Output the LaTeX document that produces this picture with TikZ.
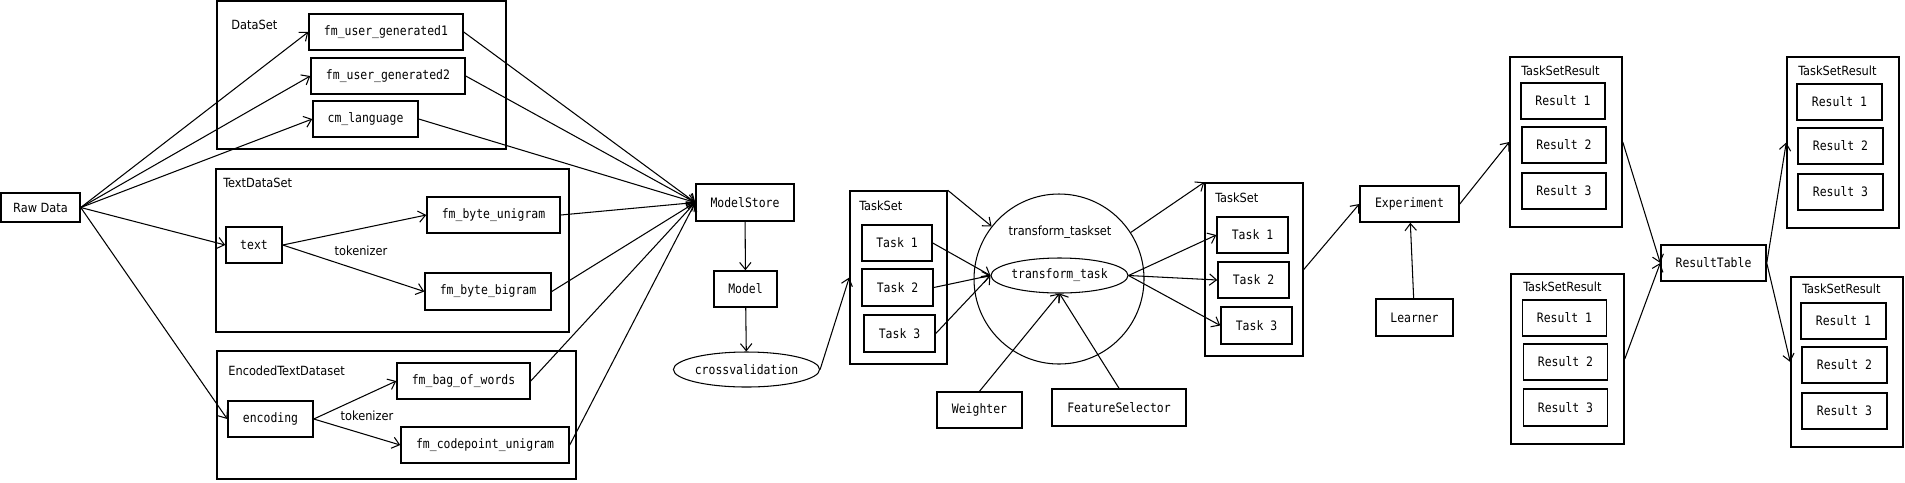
\documentclass[tikz,border=0pt]{standalone}
\usepackage{fontspec}
\usetikzlibrary{positioning, arrows.meta, shapes.geometric}
\newfontfamily\boxfont[FakeStretch=0.88]{DejaVu Sans Mono}
\newfontfamily\labfont{DejaVu Sans Condensed}
\newcommand{\monotxt}{\boxfont\fontsize{7.4}{8}\selectfont}
\newcommand{\sanstxt}{\labfont\fontsize{7.2}{8}\selectfont}
\tikzset{
  sz/.style 2 args={minimum width=#1*0.2mm, minimum height=#2*0.2mm},
  box/.style={draw, line width=0.85pt, inner sep=0pt, font=\monotxt},
  grp/.style={draw, line width=0.85pt, inner sep=0pt},
  lab/.style={anchor=west, inner sep=0pt, font=\sanstxt},
  oval/.style={draw, ellipse, line width=0.6pt, inner sep=0pt, font=\monotxt},
  link/.style={-{Straight Barb[length=4pt,width=6.5pt]}, line width=0.6pt},
}

\begin{document}
\begin{tikzpicture}[x=0.2mm, y=-0.2mm]
\useasboundingbox (0,0) rectangle (1905,482);

% input
\node[box, font=\sanstxt, sz={79}{29}] (raw) at (40.5,207.5) {Raw Data};

% data sets
\node[grp, sz={289}{148}] (ds) at (361.5,75) {};
\node[lab] (dslab) at (231,25) {DataSet};
\node[box, sz={154}{36}] (fug1) at (386,32) {fm\_user\_generated1};
\node[box, sz={154}{36}] (fug2) at (388,76) {fm\_user\_generated2};
\node[box, sz={105}{36}] (cml) at (365.5,119) {cm\_language};

\node[grp, sz={353}{163}] (tds) at (392.5,250.5) {};
\node[lab] (tdslab) at (223,183) {TextDataSet};
\node[box, sz={56}{36}] (txt) at (254,245) {text};
\node[box, sz={133}{36}] (fbu) at (493.5,215) {fm\_byte\_unigram};
\node[box, sz={126}{37}] (fbb) at (488,291.5) {fm\_byte\_bigram};
\node[lab, anchor=center] (tok1) at (361,251) {tokenizer};

\node[grp, sz={359}{128}] (etds) at (396.5,415) {};
\node[lab] (etdslab) at (228,371) {EncodedTextDataset};
\node[box, sz={85}{36}] (enc) at (270.5,419) {encoding};
\node[box, sz={133}{36}] (fbow) at (463.5,381) {fm\_bag\_of\_words};
\node[box, sz={168}{36}] (fcu) at (485,445) {fm\_codepoint\_unigram};
\node[lab, anchor=center] (tok2) at (367,416) {tokenizer};

% model
\node[box, sz={98}{37}] (ms) at (745,202.5) {ModelStore};
\node[box, sz={63}{36}] (mdl) at (745.5,289) {Model};
\node[oval, sz={145}{35}] (cv) at (746.5,369.5) {crossvalidation};

% task sets
\node[grp, sz={97}{173}] (ts1) at (898.5,277.5) {};
\node[lab] (ts1lab) at (859,206) {TaskSet};
\node[box, sz={70}{36}] (ta1) at (897,243) {Task 1};
\node[box, sz={71}{37}] (ta2) at (897.5,287.5) {Task 2};
\node[box, sz={71}{37}] (ta3) at (899.5,333.5) {Task 3};

\node[draw, circle, line width=0.6pt, inner sep=0pt, minimum size=170*0.2mm] (tts) at (1059,279) {};
\node[lab, anchor=center] (ttslab) at (1060,232) {transform\_taskset};
\node[oval, sz={137}{35}] (tt) at (1059.5,275.5) {transform\_task};
\node[box, sz={85}{36}] (wgt) at (979.5,410) {Weighter};
\node[box, sz={134}{37}] (fsel) at (1119,407.5) {FeatureSelector};

\node[grp, sz={98}{173}] (ts2) at (1254,269.5) {};
\node[lab] (ts2lab) at (1215,198) {TaskSet};
\node[box, sz={71}{36}] (tb1) at (1252.5,235) {Task 1};
\node[box, sz={71}{36}] (tb2) at (1253.5,280) {Task 2};
\node[box, sz={71}{37}] (tb3) at (1256.5,325.5) {Task 3};

% experiment
\node[box, sz={99}{36}] (exp) at (1409.5,204) {Experiment};
\node[box, sz={77}{37}] (lrn) at (1414.5,317.5) {Learner};

% results
\node[grp, sz={112}{170}] (ra) at (1566,142) {};
\node[lab] (ralab) at (1521,71) {TaskSetResult};
\node[box, sz={84}{36}] (ra1) at (1563,101) {Result 1};
\node[box, sz={84}{36}] (ra2) at (1564,145) {Result 2};
\node[box, sz={84}{36}] (ra3) at (1564,191) {Result 3};

\node[grp, sz={113}{170}] (rb) at (1567.5,359) {};
\node[lab] (rblab) at (1523,287) {TaskSetResult};
\node[box, sz={84}{36}] (rb1) at (1564.5,318) {Result 1};
\node[box, sz={84}{36}] (rb2) at (1565.5,362) {Result 2};
\node[box, sz={84}{37}] (rb3) at (1565.5,407.5) {Result 3};

\node[box, sz={105}{36}] (rt) at (1713.5,263) {ResultTable};

\node[grp, sz={112}{171}] (rc) at (1843,142.5) {};
\node[lab] (rclab) at (1798,71) {TaskSetResult};
\node[box, sz={85}{36}] (rc1) at (1839.5,102) {Result 1};
\node[box, sz={85}{36}] (rc2) at (1840.5,146) {Result 2};
\node[box, sz={85}{36}] (rc3) at (1840.5,192) {Result 3};

\node[grp, sz={112}{170}] (rd) at (1847,362) {};
\node[lab] (rdlab) at (1802,289) {TaskSetResult};
\node[box, sz={85}{36}] (rd1) at (1843.5,321) {Result 1};
\node[box, sz={85}{36}] (rd2) at (1844.5,365) {Result 2};
\node[box, sz={85}{36}] (rd3) at (1844.5,411) {Result 3};

% raw data arrows
\foreach \t in {fug1, fug2, cml, txt, enc}
  \draw[link] (raw.east) -- (\t.west);
\draw[link] (txt.east) -- (fbu.west);
\draw[link] (txt.east) -- (fbb.west);
\draw[link] (enc.east) -- (fbow.west);
\draw[link] (enc.east) -- (fcu.west);

% model store arrows
\foreach \s in {fug1, fug2, cml, fbu, fbb, fbow, fcu}
  \draw[link] (\s.east) -- (ms.west);
\draw[link] (ms) -- (mdl);
\draw[link] (mdl) -- (cv);
\draw[link] (cv.east) -- (ts1.west);

% transform arrows
\draw[link] (ts1.north east) -- (tts.142);
\foreach \s in {ta1, ta2, ta3}
  \draw[link] (\s.east) -- (tt.west);
\draw[link] (wgt.north) -- (tt.south);
\draw[link] (fsel.north) -- (tt.south);
\foreach \t in {tb1, tb2, tb3}
  \draw[link] (tt.east) -- (\t.west);
\draw[link] (tts.33) -- (ts2.north west);

% experiment and result arrows
\draw[link] (ts2.east) -- (exp.west);
\draw[link] (lrn) -- (exp);
\draw[link] (exp.east) -- (ra.west);
\draw[link] (ra.east) -- (rt.west);
\draw[link] (rb.east) -- (rt.west);
\draw[link] (rt.east) -- (rc.west);
\draw[link] (rt.east) -- (rd.west);
\end{tikzpicture}
\end{document}
